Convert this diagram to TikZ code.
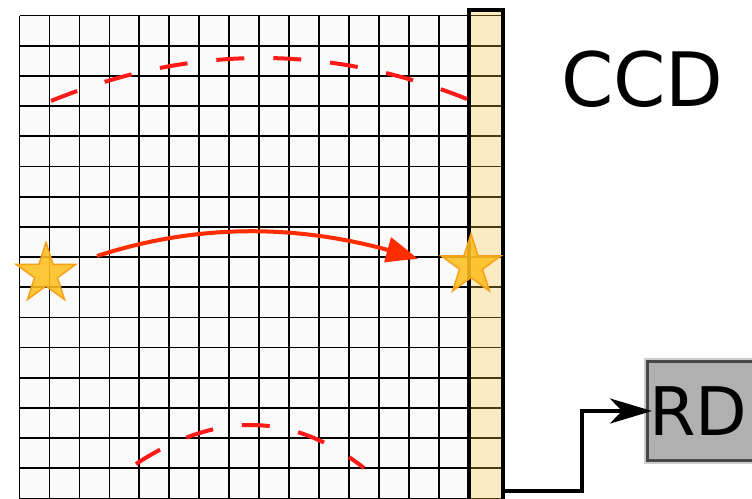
\documentclass[tikz,border=0pt]{standalone}
\usepackage{fontspec}
\newfontfamily\dv{DejaVu Sans}
\usetikzlibrary{shapes.geometric, arrows.meta, bending}
\definecolor{cellfill}{HTML}{FAFAFA}
\definecolor{regfill}{HTML}{FBEBC2}
\definecolor{regline}{HTML}{4A3A10}
\definecolor{starfill}{HTML}{FFBF1F}
\definecolor{starline}{HTML}{F7A11A}
\definecolor{arrowred}{HTML}{FF2D00}
\definecolor{dashred}{HTML}{FF1A1A}
\definecolor{rdfill}{HTML}{B0B0B0}
\begin{document}
\begin{tikzpicture}[x=1pt,y=-1pt,
  gridline/.style={black, line width=1.8pt},
  regcell/.style={regline, line width=1.8pt},
  regframe/.style={black, line width=4pt},
  star5/.style={star, star points=5, star point ratio=2.618, minimum size=63pt, inner sep=0pt,
    fill=starfill, fill opacity=0.88, draw=starline, line width=1.5pt},
  flowarc/.style={dashred, line width=4pt, dash pattern=on 28pt off 29pt},
  movearrow/.style={arrowred, line width=4pt, -{Triangle[length=32pt,width=25pt,bend]}},
  wire/.style={black, line width=4pt, -{Stealth[length=42pt,width=25pt,inset=12pt]}},
  biglabel/.style={font=\dv\fontsize{75}{75}\selectfont, inner sep=0pt},
  rdbox/.style={font=\dv\fontsize{67}{67}\selectfont, fill=rdfill, draw=black!72, line width=3pt,
    preaction={draw=black!40, line width=7pt, draw opacity=0.5},
    text width=117pt, align=left, inner xsep=1.5pt, inner ysep=0pt, minimum height=99pt}]
\useasboundingbox (0,0) rectangle (752,498);
\clip (0,0) rectangle (752,498);
% CCD grid
\fill[cellfill] (19.5,15.5) rectangle (469,500);
\foreach \i in {0,...,15} \draw[gridline] ({19.5+29.97*\i},15.5) -- ({19.5+29.97*\i},500);
\foreach \j in {0,...,16} \draw[gridline] (19.5,{15.5+30.19*\j}) -- (469,{15.5+30.19*\j});
% readout register
\fill[regfill] (469,9.5) rectangle (503,502);
\foreach \j in {0,...,16} \draw[regcell] (469,{15.5+30.19*\j}) -- (503,{15.5+30.19*\j});
\draw[regframe] (469,504) -- (469,9.5) -- (503,9.5) -- (503,504);
\coordinate (wstart) at (503,490.5);
% charge flow arcs
\draw[flowarc] (51,101) .. controls (189.7,44.3) and (328.3,43.7) .. (467,99);
\draw[flowarc] (136,464) .. controls (216.7,410.7) and (292.7,412) .. (364,468);
% stars and transfer arrow
\node[star5] (s1) at (46,274) {};
\node[star5] (s2) at (471,265.5) {};
\coordinate (a1) at (97,256);
\coordinate (a2) at (418,259);
\draw[movearrow] (a1) .. controls (202,222) and (309,223) .. (a2);
% labels
\node[biglabel, anchor=base west] (ccd) at (561,106.7) {CCD};
\node[rdbox, anchor=west] (rd) at (646,411) {RD};
\draw[wire] (wstart) -- ++(78.5,0) |- ([xshift=6pt]rd.west);
\end{tikzpicture}
\end{document}
